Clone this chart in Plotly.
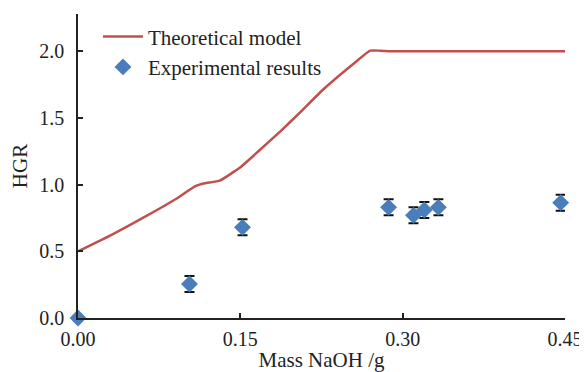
import plotly.graph_objects as go

# Theoretical model curve
model_x = [0.0, 0.031, 0.062, 0.092, 0.108, 0.117, 0.131, 0.150, 0.168, 0.187,
           0.205, 0.226, 0.258, 0.270, 0.279, 0.290, 0.300, 0.45]
model_y = [0.50, 0.624, 0.76, 0.90, 0.987, 1.01, 1.03, 1.13, 1.26, 1.40,
           1.54, 1.71, 1.93, 2.005, 2.005, 2.0, 2.0, 2.0]

# Experimental results
exp_x = [0.0, 0.103, 0.152, 0.287, 0.310, 0.320, 0.333, 0.446, 0.452]
exp_y = [0.0, 0.255, 0.68, 0.83, 0.77, 0.81, 0.83, 0.865, 0.885]
exp_err = [0.0, 0.06, 0.06, 0.06, 0.06, 0.06, 0.06, 0.06, 0.0]

x_ticks = [0.0, 0.15, 0.30, 0.45]
x_tick_labels = ["0.00", "0.15", "0.30", "0.45"]
y_ticks = [0.0, 0.5, 1.0, 1.5, 2.0]
y_tick_labels = ["0.0", "0.5", "1.0", "1.5", "2.0"]

FONT = "Liberation Serif"

fig = go.Figure()
fig.add_trace(go.Scatter(
    x=model_x, y=model_y, mode="lines", name="Theoretical model",
    line=dict(color="#C0504D", width=2.5, shape="spline", smoothing=0.4),
    cliponaxis=False,
))
fig.add_trace(go.Scatter(
    x=exp_x, y=exp_y, mode="markers", name="Experimental results",
    marker=dict(symbol="diamond", size=13, color="#4A7EBB"),
    error_y=dict(type="data", array=exp_err, color="#111111", thickness=2, width=5, visible=True),
    cliponaxis=False,
))

# page body has an 8px margin, so the figure is 8px smaller and offset
fig.update_layout(
    width=579, height=364,
    margin=dict(l=70, r=22, t=6, b=54, autoexpand=False),
    paper_bgcolor="white", plot_bgcolor="white",
    font=dict(family=FONT, size=20, color="#222222"),
    showlegend=True,
    legend=dict(x=0.041, y=0.992, xanchor="left", yanchor="top",
                bgcolor="rgba(0,0,0,0)", font=dict(family=FONT, size=21, color="#222222"),
                tracegroupgap=0, itemwidth=40),
    xaxis=dict(
        range=[0, 0.45], tickmode="array", tickvals=x_ticks, ticktext=x_tick_labels,
        showgrid=False, zeroline=False, showline=True, linecolor="#222222", linewidth=1.5,
        ticks="inside", ticklen=5, tickwidth=1.5, tickcolor="#222222",
        ticklabelstandoff=2, automargin=False,
        tickfont=dict(family=FONT, size=20),
        title=dict(text="Mass NaOH /g", standoff=10, font=dict(family=FONT, size=21)),
    ),
    yaxis=dict(
        range=[0, 2.28], tickmode="array", tickvals=y_ticks, ticktext=y_tick_labels,
        showgrid=False, zeroline=False, showline=True, linecolor="#222222", linewidth=1.5,
        ticks="inside", ticklen=5, tickwidth=1.5, tickcolor="#222222",
        ticklabelstandoff=8, automargin=False,
        tickfont=dict(family=FONT, size=20),
        title=dict(text="HGR", standoff=12, font=dict(family=FONT, size=21)),
    ),
)

fig.write_html("out.html")
